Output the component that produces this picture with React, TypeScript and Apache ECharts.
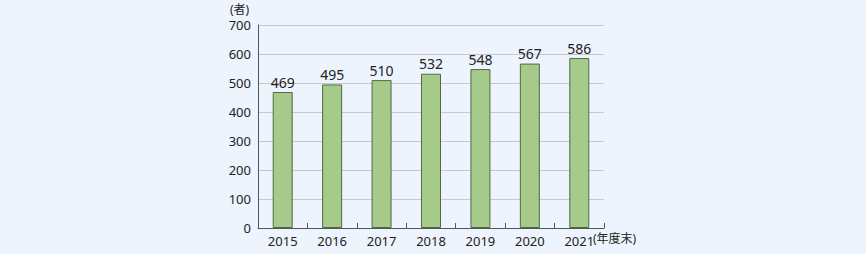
import React, { useEffect, useRef } from "react";
import * as echarts from "echarts";

const categories = ["2015", "2016", "2017", "2018", "2019", "2020", "2021"];
const values = [469, 495, 510, 532, 548, 567, 586];
const yTicks = { min: 0, max: 700, interval: 100 };

export default function App() {
  const ref = useRef<HTMLDivElement>(null);
  useEffect(() => {
    const chart = echarts.init(ref.current!, null, { renderer: "svg" });
    const font = "'Noto Sans', 'Noto Sans CJK JP', sans-serif";
    chart.setOption({
      animation: false,
      backgroundColor: "#EEF4FD",
      textStyle: { fontFamily: font },
      grid: { left: 258, right: 262, top: 25, bottom: 26, containLabel: false },
      xAxis: {
        type: "category",
        data: categories,
        axisLine: { lineStyle: { color: "#555", width: 1 } },
        axisTick: { show: true, inside: true, length: 5, lineStyle: { color: "#555" } },
        axisLabel: { color: "#222", fontSize: 13, margin: 6, fontFamily: font },
      },
      yAxis: {
        type: "value",
        min: yTicks.min,
        max: yTicks.max,
        interval: yTicks.interval,
        axisLine: { show: true, lineStyle: { color: "#555", width: 1 } },
        axisTick: { show: false },
        axisLabel: { color: "#222", fontSize: 13, margin: 7, fontFamily: font },
        splitLine: { lineStyle: { color: "#c8c8c8", width: 1 } },
      },
      graphic: [
        { type: "text", left: 230, top: 3, style: { text: "(者)", fontSize: 12, fill: "#222", fontFamily: font } },
        { type: "text", left: 593, top: 232, style: { text: "(年度末)", fontSize: 12, fill: "#222", fontFamily: font } },
      ],
      series: [
        {
          type: "bar",
          data: values,
          barWidth: 20,
          itemStyle: { color: "#A5CA8A", borderColor: "#4F6B45", borderWidth: 1 },
          label: { show: true, position: "top", distance: 3, color: "#222", fontSize: 14, fontFamily: font },
        },
      ],
    });
    return () => chart.dispose();
  }, []);
  return <div ref={ref} style={{ position: "fixed", left: 0, top: 0, width: 866, height: 254 }} />;
}
